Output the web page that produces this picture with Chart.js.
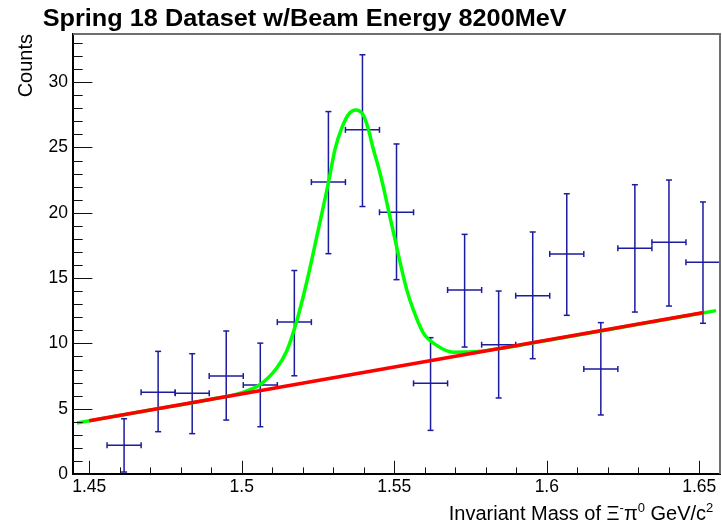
<!DOCTYPE html>
<html>
<head>
<meta charset="utf-8">
<script src="https://cdn.jsdelivr.net/npm/chart.js@4.4.0/dist/chart.umd.min.js"></script>
<style>
html,body{margin:0;padding:0;background:#fff;}
#wrap{width:722px;height:525px;}
</style>
</head>
<body>
<div id="wrap"><canvas id="c" width="722" height="525"></canvas></div>
<script>
// ---- data ----
const titleText = 'Spring 18 Dataset w/Beam Energy 8200MeV';
const yTitle = 'Counts';
const xTitleParts = [
  {t: 'Invariant Mass of \u039E'}, {t: '-', sup: true},
  {t: '\u03C0'}, {t: '0', sup: true},
  {t: ' GeV/c'}, {t: '2', sup: true}
];
const xRange = [1.44466, 1.65679];
const yRange = [0, 33.69];
const binHalfWidth = 0.005583;
const binCenters = [1.46141, 1.47257, 1.48374, 1.49490, 1.50607, 1.51723, 1.52840, 1.53956, 1.55073,
                    1.56189, 1.57306, 1.58422, 1.59539, 1.60655, 1.61772, 1.62888, 1.64005, 1.65121];
const binValues  = [2.20, 6.26, 6.18, 7.50, 6.81, 11.63, 22.35, 26.35, 20.04,
                    6.94, 14.09, 9.90, 13.65, 16.85, 8.04, 17.28, 17.74, 16.21];
const errLow     = [0.15, 3.24, 3.09, 4.13, 3.62, 7.52, 16.87, 20.48, 14.88,
                    3.34, 9.72, 5.82, 8.83, 12.15, 4.52, 12.40, 12.86, 11.54];
const errHigh    = [4.23, 9.39, 9.21, 10.95, 10.02, 15.58, 27.75, 32.10, 25.27,
                    10.44, 18.35, 14.01, 18.53, 21.46, 11.59, 22.15, 22.51, 20.83];
// total fit (green)
const fitX = [1.44597, 1.4700, 1.4900, 1.5000, 1.5060, 1.5114, 1.5147, 1.5180, 1.5213, 1.5248,
              1.5284, 1.5306, 1.5328, 1.5349, 1.5373, 1.5398, 1.5415, 1.5431, 1.5448, 1.5464,
              1.5480, 1.5502, 1.5519, 1.5541, 1.5562, 1.5595, 1.5639, 1.5693, 1.5781, 1.6000,
              1.6300, 1.6555];
const fitY = [3.91, 4.90, 5.73, 6.23, 6.85, 8.10, 9.40, 11.70, 14.70, 18.40,
              22.30, 24.90, 26.50, 27.50, 27.87, 27.50, 26.40, 24.90, 23.50, 22.00,
              20.30, 18.00, 16.20, 14.10, 12.60, 10.80, 9.85, 9.33, 9.40, 10.22,
              11.46, 12.51];
// linear background (red)
const bkgX = [1.45, 1.6515];
const bkgY = [4.08, 12.36];
const xTickLabels = [1.45, 1.5, 1.55, 1.6, 1.65];
const yTickLabels = [0, 5, 10, 15, 20, 25, 30];

// ---- build ----
const FONT = '"Liberation Sans", Arial, Helvetica, sans-serif';
Chart.defaults.font.family = FONT;
Chart.defaults.color = '#000';

const xMinor = []; for (let i = 0; i <= 20; i++) xMinor.push(Math.round((1.45 + i * 0.01) * 100) / 100);
const yMinor = []; for (let i = 0; i <= 33; i++) yMinor.push(i);
const isMajorX = v => xTickLabels.some(t => Math.abs(t - v) < 1e-6);
const isMajorY = v => yTickLabels.indexOf(v) >= 0;

const vBars = [], hBars = [];
binCenters.forEach((c, i) => {
  vBars.push({x: c, y: errLow[i]}, {x: c, y: errHigh[i]}, {x: c, y: null});
  hBars.push({x: c - binHalfWidth, y: binValues[i]}, {x: c + binHalfWidth, y: binValues[i]}, {x: c, y: null});
});
const BLUE = 'rgb(28,28,158)';

const rootFrame = {
  id: 'rootFrame',
  afterDraw(chart) {
    const {ctx, chartArea: a, scales: {x, y}} = chart;
    ctx.save();
    ctx.strokeStyle = '#6e6e6e'; ctx.lineWidth = 2;
    ctx.beginPath();
    ctx.moveTo(a.left, a.top); ctx.lineTo(a.right, a.top); ctx.lineTo(a.right, a.bottom);
    ctx.stroke();
    ctx.strokeStyle = '#111'; ctx.lineWidth = 1;
    ctx.beginPath();
    xMinor.forEach(v => {
      const px = Math.round(x.getPixelForValue(v)) + 0.5;
      const len = isMajorX(v) ? 13.2 : 6.6;
      ctx.moveTo(px, a.bottom); ctx.lineTo(px, a.bottom - len);
    });
    yMinor.forEach(v => {
      const py = Math.round(y.getPixelForValue(v)) + 0.5;
      const len = isMajorY(v) ? 19.4 : 9.7;
      ctx.moveTo(a.left, py); ctx.lineTo(a.left + len, py);
    });
    ctx.stroke();

    ctx.fillStyle = '#000';
    // main title
    ctx.save();
    ctx.font = 'bold 23px ' + FONT;
    ctx.textBaseline = 'alphabetic'; ctx.textAlign = 'left';
    const tw = ctx.measureText(titleText).width;
    ctx.translate(42.7, 26);
    ctx.scale(524 / tw, 1);
    ctx.fillText(titleText, 0, 0);
    ctx.restore();

    // y title
    ctx.save();
    ctx.font = '20px ' + FONT;
    ctx.translate(32, 34);
    ctx.rotate(-Math.PI / 2);
    ctx.textAlign = 'right'; ctx.textBaseline = 'alphabetic';
    ctx.fillText(yTitle, 0, 0);
    ctx.restore();

    // x title with superscripts
    const base = 519.5, mainF = '20px ' + FONT, supF = '13px ' + FONT;
    let total = 0;
    xTitleParts.forEach(p => { ctx.font = p.sup ? supF : mainF; p.w = ctx.measureText(p.t).width; total += p.w; });
    let cx = 713.3 - total;
    ctx.textAlign = 'left'; ctx.textBaseline = 'alphabetic';
    xTitleParts.forEach(p => {
      ctx.font = p.sup ? supF : mainF;
      ctx.fillText(p.t, cx, p.sup ? base - 7.5 : base);
      cx += p.w;
    });
    ctx.restore();
  }
};

new Chart(document.getElementById('c'), {
  type: 'scatter',
  data: {
    datasets: [
      {data: bkgX.map((v, i) => ({x: v, y: bkgY[i]})), showLine: true, borderColor: '#ff0000',
       borderWidth: 3.5, pointRadius: 0, order: 1},
      {data: fitX.map((v, i) => ({x: v, y: fitY[i]})), showLine: true, borderColor: '#00ff00',
       borderWidth: 3.5, pointRadius: 0, cubicInterpolationMode: 'monotone', order: 2},
      {data: vBars, showLine: true, spanGaps: false, borderColor: BLUE, borderWidth: 1.5,
       pointStyle: 'line', pointRadius: 3, pointBorderColor: BLUE, pointBorderWidth: 1.5, order: 3},
      {data: hBars, showLine: true, spanGaps: false, borderColor: BLUE, borderWidth: 1.5,
       pointStyle: 'line', pointRadius: 3, pointRotation: 90, pointBorderColor: BLUE, pointBorderWidth: 1.5, order: 4}
    ]
  },
  options: {
    responsive: false,
    animation: false,
    devicePixelRatio: 1,
    events: [],
    layout: {autoPadding: false, padding: {top: 34, right: 2, left: 0, bottom: 0}},
    plugins: {legend: {display: false}, tooltip: {enabled: false}, title: {display: false}},
    scales: {
      x: {
        type: 'linear', min: xRange[0], max: xRange[1],
        afterBuildTicks: s => { s.ticks = xMinor.map(v => ({value: v})); },
        afterFit: s => { s.height = 51; s.paddingLeft = 0; s.paddingRight = 0; },
        grid: {display: false, drawTicks: false},
        border: {display: true, color: '#000', width: 2},
        ticks: {autoSkip: false, maxRotation: 0, padding: 3, font: {size: 17.5},
                callback: v => isMajorX(v) ? String(Math.round(v * 100) / 100) : ''}
      },
      y: {
        type: 'linear', min: yRange[0], max: yRange[1],
        afterBuildTicks: s => { s.ticks = yMinor.map(v => ({value: v})); },
        afterFit: s => { s.width = 73; s.paddingTop = 0; s.paddingBottom = 0; },
        grid: {display: false, drawTicks: false},
        border: {display: true, color: '#000', width: 2},
        ticks: {autoSkip: false, padding: 5, font: {size: 17.5},
                callback: v => isMajorY(v) ? String(v) : ''}
      }
    }
  },
  plugins: [rootFrame]
});
</script>
</body>
</html>
